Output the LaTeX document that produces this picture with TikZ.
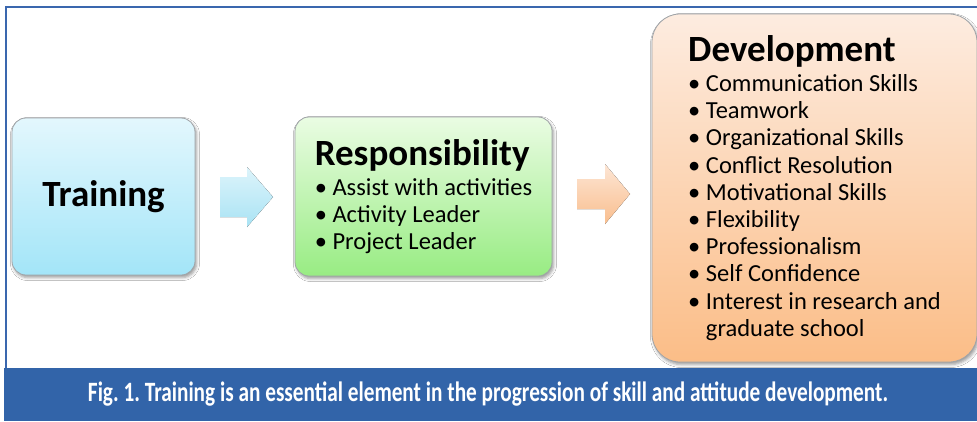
\documentclass[tikz,border=0pt]{standalone}
\usepackage{fontspec}
\usepackage{graphicx}
\setmainfont{Carlito}
\usetikzlibrary{shadows.blur}
\frenchspacing

\definecolor{frameblue}{HTML}{3A67AE}
\definecolor{capblue}{HTML}{3264A9}
\definecolor{boxline}{HTML}{A0A4A8}
\definecolor{cyanTop}{HTML}{E3F7FD}
\definecolor{cyanBot}{HTML}{A3E5F8}
\definecolor{greenTop}{HTML}{EAFCE3}
\definecolor{greenBot}{HTML}{98EC83}
\definecolor{peachTop}{HTML}{FDECE0}
\definecolor{peachBot}{HTML}{FBBD87}
\definecolor{arrCyanTop}{HTML}{DDF4FB}
\definecolor{arrCyanBot}{HTML}{A9E3F4}
\definecolor{arrPeachTop}{HTML}{FDE6D5}
\definecolor{arrPeachBot}{HTML}{F9BE8E}

\newcommand{\stagehead}[1]{{\bfseries\fontsize{37}{37}\selectfont #1}}

\tikzset{
  stagebox/.style={draw=boxline, line width=0.8pt, inner sep=0pt, text=black,
    blur shadow={shadow xshift=1.5pt, shadow yshift=-2.5pt, shadow blur radius=3pt, shadow opacity=40}},
  headfont/.style={font=\bfseries\fontsize{37}{37}\selectfont},
  listfont/.style={font=\fontsize{24.5}{27.2}\selectfont},
  blockarrow/.style={draw=none}
}

\begin{document}
\begin{tikzpicture}[x=1pt,y=-1pt]
\useasboundingbox (0,0) rectangle (977,421);
\fill[white] (0,0) rectangle (977,421);

% outer frame and caption band
\draw[frameblue, line width=2pt] (6,421) -- (6,7) -- (977,7);
\fill[capblue] (4,368) rectangle (977,421);
\node[text=white, font=\bfseries\fontsize{28}{28}\selectfont] (caption) at (488,394)
  {\resizebox{800pt}{\height}{Fig. 1. Training is an essential element in the progression of skill and attitude development.}};

% stage boxes
\node[stagebox, rounded corners=14pt, minimum width=183pt, minimum height=157pt,
      top color=cyanTop, bottom color=cyanBot, headfont] (training) at (103.5,196.5) {Training};

\node[stagebox, rounded corners=14pt, minimum width=257pt, minimum height=159pt,
      top color=greenTop, bottom color=greenBot, listfont, align=left] (resp) at (423.5,196.5)
  {\stagehead{Responsibility}\\[3pt]
   • Assist with activities\\
   • Activity Leader\\
   • Project Leader};

\node[stagebox, rounded corners=28pt, minimum width=325pt, minimum height=348pt,
      top color=peachTop, bottom color=peachBot, listfont, align=left] (dev) at (814.5,188)
  {\stagehead{Development}\\[3pt]
   • Communication Skills\\
   • Teamwork\\
   • Organizational Skills\\
   • Conflict Resolution\\
   • Motivational Skills\\
   • Flexibility\\
   • Professionalism\\
   • Self Confidence\\
   • Interest in research and\\
   \hphantom{• }graduate school};

% block arrows between stages
\coordinate (a1) at (220,197);
\coordinate (a2) at (577,194);
\fill[blockarrow, top color=arrCyanTop, bottom color=arrCyanBot]
  (a1) ++(0,-20) -- ++(27,0) -- ++(0,-10) -- ++(26,30) -- ++(-26,30) -- ++(0,-10) -- ++(-27,0) -- cycle;
\fill[blockarrow, top color=arrPeachTop, bottom color=arrPeachBot]
  (a2) ++(0,-15) -- ++(28,0) -- ++(0,-15) -- ++(25,30) -- ++(-25,30) -- ++(0,-15) -- ++(-28,0) -- cycle;
\end{tikzpicture}
\end{document}
